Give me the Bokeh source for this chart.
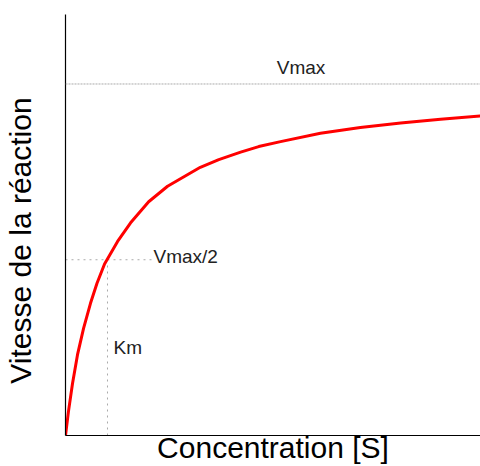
from bokeh.plotting import figure
from bokeh.models import Range1d, Span, Label
from bokeh.embed import file_html
from bokeh.resources import INLINE

# Data (concentration, reaction rate; Vmax = 100, Km = 10)
concentration = [0.0, 0.7, 1.67, 2.86, 4.3, 5.95, 7.5, 9.3, 12.4, 15.5, 19.8,
                 24.3, 32.1, 36.5, 41.7, 46.0, 51.2, 60.7, 70.2, 79.8, 89.3, 98.8]
rate = [0.0, 6.8, 14.8, 23.0, 30.5, 37.6, 43.3, 48.8, 55.2, 60.5, 66.5,
        70.9, 76.3, 78.5, 80.6, 82.2, 83.6, 86.0, 87.6, 88.9, 90.0, 90.9]
VMAX = 100.0
KM = 10.0
x_label = "Concentration [S]"
y_label = "Vitesse de la réaction"
FONT = "Liberation Sans"

p = figure(width=480, height=466, output_backend="svg", toolbar_location=None,
           x_range=Range1d(0, 98.81), y_range=Range1d(0, 119.77),
           min_border_left=65, min_border_right=0, min_border_top=14,
           min_border_bottom=31)
p.xgrid.visible = False
p.ygrid.visible = False
p.outline_line_color = None
p.background_fill_color = "white"
p.border_fill_color = "white"

for ax in (p.xaxis[0], p.yaxis[0]):
    ax.major_tick_line_color = None
    ax.minor_tick_line_color = None
    ax.major_tick_out = 0
    ax.major_tick_in = 0
    ax.minor_tick_out = 0
    ax.minor_tick_in = 0
    ax.major_label_text_font_size = "0px"
    ax.major_label_text_color = None
    ax.axis_line_color = "black"
    ax.axis_line_width = 1.2
    ax.major_label_standoff = 0
    ax.axis_label_text_font = FONT
    ax.axis_label_text_font_style = "normal"
    ax.axis_label_text_color = "black"
    ax.axis_label_text_line_height = 1.0

p.xaxis[0].axis_label = x_label
p.xaxis[0].axis_label_text_font_size = "30px"
p.xaxis[0].axis_label_standoff = -5
p.yaxis[0].axis_label = y_label + "\u00a0" * 3 + "\u2009"
p.yaxis[0].axis_label_text_font_size = "30px"
p.yaxis[0].axis_label_standoff = 29

# Reference lines
p.add_layout(Span(location=VMAX, dimension="width", line_color="#aaaaaa",
                  line_width=1, line_dash="2 1"))
p.line([0, KM * 2.05], [VMAX / 2, VMAX / 2], line_color="#aaaaaa",
       line_width=1, line_dash="2 4")
p.line([KM, KM], [0, VMAX / 2 - 1.2], line_color="#aaaaaa",
       line_width=1, line_dash="2 4")

# Curve
p.line(concentration, rate, line_color="red", line_width=3)

# Texts
p.add_layout(Label(x=56.07, y=104.7, text="Vmax", text_align="center",
                   text_baseline="alphabetic", text_font=FONT,
                   text_font_size="19px", text_color="#222222"))
p.add_layout(Label(x=20.95, y=50.8, text="Vmax/2", text_align="left",
                   text_baseline="alphabetic", text_font=FONT,
                   text_font_size="19px", text_color="#222222"))
p.add_layout(Label(x=11.43, y=25.0, text="Km", text_align="left",
                   text_baseline="alphabetic", text_font=FONT,
                   text_font_size="19px", text_color="#222222"))

open("out.html", "w").write(file_html(p, INLINE))
